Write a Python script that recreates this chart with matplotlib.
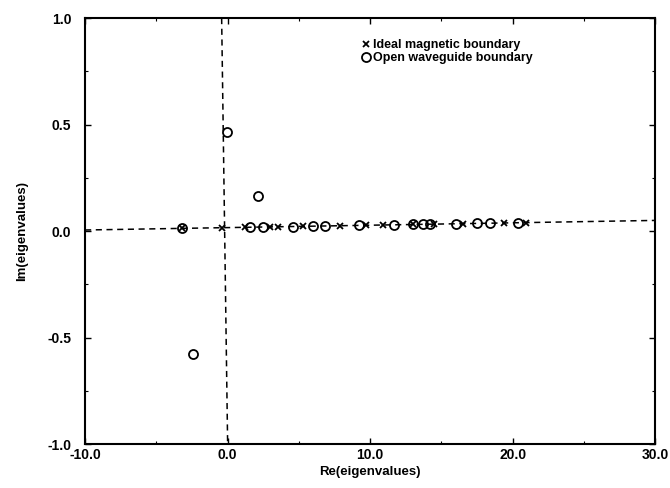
import numpy as np
import matplotlib
matplotlib.use("Agg")
import matplotlib.pyplot as plt
from matplotlib.ticker import MultipleLocator

# eigenvalues, ideal magnetic boundary (crosses)
ideal_re = [-3.2, -0.4, 1.2, 3.0, 3.5, 5.3, 7.9, 9.7, 10.9, 13.0, 14.5, 16.5, 19.4, 20.9]
ideal_im = [0.013, 0.016, 0.018, 0.020, 0.020, 0.022, 0.025, 0.027, 0.029, 0.031, 0.033, 0.035, 0.038, 0.040]

# eigenvalues, open waveguide boundary (circles)
open_re = [-3.2, 1.6, 2.5, 4.6, 6.0, 6.8, 9.2, 11.7, 13.0, 13.7, 14.2, 16.0, 17.5, 18.4, 20.4,
           -0.05, 2.1, -2.4]
open_im = [0.013, 0.018, 0.019, 0.021, 0.023, 0.024, 0.027, 0.029, 0.031, 0.032, 0.032, 0.034, 0.036, 0.037, 0.039,
           0.465, 0.164, -0.577]

# zero lines (scan is slightly tilted)
hline_x = [-10.0, 30.0]
hline_y = [0.005, 0.05]
vline_x = [-0.42, 0.0]
vline_y = [1.0, -1.0]

plt.rcParams['font.family'] = ['Liberation Sans', 'DejaVu Sans']
plt.rcParams['font.weight'] = 'bold'

fig = plt.figure(figsize=(6.7, 4.88), dpi=100)
ax = fig.add_axes([0.127, 0.090, 0.851, 0.873])

ax.plot(hline_x, hline_y, color='black', ls=(0, (4, 3)), lw=1.1)
ax.plot(vline_x, vline_y, color='black', ls=(0, (4, 3)), lw=1.1)

ax.plot(ideal_re, ideal_im, 'x', color='black', ms=4.5, mew=1.3, label='Ideal magnetic boundary')
ax.plot(open_re, open_im, 'o', mfc='none', mec='black', ms=6.5, mew=1.3, label='Open waveguide boundary')

ax.set_xlim(-10, 30)
ax.set_ylim(-1, 1)
ax.xaxis.set_minor_locator(MultipleLocator(5))
ax.yaxis.set_minor_locator(MultipleLocator(0.25))
ax.set_xticks([-10, 0, 10, 20, 30])
ax.set_xticklabels(['-10.0', '0.0', '10.0', '20.0', '30.0'])
ax.set_yticks([-1, -0.5, 0, 0.5, 1])
ax.set_yticklabels(['-1.0', '-0.5', '0.0', '0.5', '1.0'])
ax.tick_params(which='both', direction='in', top=True, right=True, labelsize=10)
ax.tick_params(which='major', length=4, width=1)
ax.tick_params(which='minor', length=2, width=0.8)
ax.tick_params(axis='x', pad=3)
ax.tick_params(axis='y', pad=10)
for s in ax.spines.values():
    s.set_linewidth(1.5)

ax.set_xlabel('Re(eigenvalues)', fontsize=9.5, fontweight='bold', labelpad=3)
ax.set_ylabel('Im(eigenvalues)', fontsize=9.5, fontweight='bold', labelpad=14)

ax.legend(loc='upper left', bbox_to_anchor=(0.475, 0.965), frameon=False, fontsize=9,
          handlelength=0.6, handletextpad=0.3, labelspacing=0.1, borderpad=0)

fig.savefig('out.png', dpi=100)
